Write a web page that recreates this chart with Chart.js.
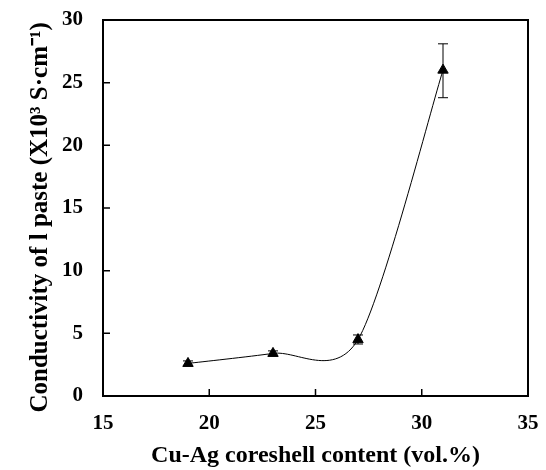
<!DOCTYPE html>
<html>
<head>
<meta charset="utf-8">
<script src="https://cdn.jsdelivr.net/npm/chart.js@4.4.1/dist/chart.umd.min.js"></script>
<style>
  html, body { margin: 0; padding: 0; background: #fff; }
  #wrap { width: 546px; height: 470px; }
</style>
</head>
<body>
<div id="wrap"><canvas id="chart_conductivity"></canvas></div>
<script>
// dữ liệu đo
var contents = [19, 23, 27, 31];
var conductivity = [2.6, 3.4, 4.5, 26.0];
var errLow = [2.4, 3.2, 4.15, 23.8];
var errHigh = [2.8, 3.6, 4.87, 28.1];
var xTicks = [15, 20, 25, 30, 35];
var yTicks = [0, 5, 10, 15, 20, 25, 30];

var labelFont = { family: 'Liberation Serif', size: 21, weight: 'bold' };
var titleFont = { family: 'Liberation Serif', size: 24, weight: 'bold' };

// khung + vạch chia hướng vào trong
const framePlugin = {
    id: 'frame_inner_ticks',
    afterDraw: (chart) => {
        const ctx = chart.ctx;
        const a = chart.chartArea;
        const xs = chart.scales.x;
        const ys = chart.scales.y;
        ctx.save();
        ctx.strokeStyle = '#000';
        ctx.lineWidth = 2;
        ctx.strokeRect(a.left, a.top, a.right - a.left, a.bottom - a.top);
        ctx.lineWidth = 1.5;
        ctx.beginPath();
        xTicks.forEach(function (v) {
            var px = xs.getPixelForValue(v);
            ctx.moveTo(px, a.bottom);
            ctx.lineTo(px, a.bottom - 7);
        });
        yTicks.forEach(function (v) {
            var py = ys.getPixelForValue(v);
            ctx.moveTo(a.left, py);
            ctx.lineTo(a.left + 7, py);
        });
        ctx.stroke();
        ctx.restore();
    }
};

// đường cong kiểu Catmull-Rom (giống smooth line của Excel)
const smoothPlugin = {
    id: 'catmull_rom_line',
    beforeDatasetsDraw: (chart) => {
        const meta = chart.getDatasetMeta(0);
        meta.dataset.updateControlPoints(chart.chartArea);
        const pts = meta.data;
        const k = 0.14;
        for (var i = 0; i < pts.length; i++) {
            var prev = pts[i - 1] || pts[i];
            var next = pts[i + 1] || pts[i];
            var tx = (next.x - prev.x) * k;
            var ty = (next.y - prev.y) * k;
            pts[i].cp1x = pts[i].x - tx;
            pts[i].cp1y = pts[i].y - ty;
            pts[i].cp2x = pts[i].x + tx;
            pts[i].cp2y = pts[i].y + ty;
        }
    }
};

// thanh sai số
const errorBarPlugin = {
    id: 'error_bars',
    afterDatasetsDraw: (chart) => {
        const ctx = chart.ctx;
        const xs = chart.scales.x;
        const ys = chart.scales.y;
        ctx.save();
        ctx.strokeStyle = '#000';
        ctx.lineWidth = 1;
        contents.forEach(function (c, i) {
            var px = xs.getPixelForValue(c);
            var y1 = ys.getPixelForValue(errLow[i]);
            var y2 = ys.getPixelForValue(errHigh[i]);
            ctx.beginPath();
            ctx.moveTo(px, y1);
            ctx.lineTo(px, y2);
            ctx.moveTo(px - 5, y1);
            ctx.lineTo(px + 5, y1);
            ctx.moveTo(px - 5, y2);
            ctx.lineTo(px + 5, y2);
            ctx.stroke();
        });
        ctx.restore();
    }
};

var ctx1 = document.getElementById('chart_conductivity');
var Chart_Conductivity = new Chart(ctx1, {
    type: 'line',
    data: {
        datasets: [{
            label: 'Conductivity',
            data: contents.map(function (c, i) { return { x: c, y: conductivity[i] }; }),
            borderColor: '#000',
            borderWidth: 1,
            backgroundColor: '#000',
            pointStyle: 'triangle',
            pointRadius: 6,
            pointBorderWidth: 1,
            tension: 0.4,
            fill: false
        }]
    },
    options: {
        responsive: true,
        maintainAspectRatio: false,
        animation: false,
        plugins: {
            legend: { display: false },
            tooltip: { enabled: false }
        },
        layout: {
            padding: { left: 0, right: 18, top: 20, bottom: 0 }
        },
        scales: {
            x: {
                type: 'linear',
                min: 15,
                max: 35,
                grid: { display: false, drawTicks: false },
                border: { display: false },
                afterBuildTicks: function (axis) {
                    axis.ticks = xTicks.map(function (v) { return { value: v }; });
                },
                afterFit: function (axis) {
                    axis.height = 74;
                    axis.paddingLeft = 0;
                    axis.paddingRight = 0;
                },
                ticks: {
                    color: '#000',
                    padding: 15,
                    maxRotation: 0,
                    font: labelFont
                },
                title: {
                    display: true,
                    text: 'Cu-Ag coreshell content (vol.%)',
                    color: '#000',
                    padding: { top: 0, bottom: 0 },
                    font: titleFont
                }
            },
            y: {
                min: 0,
                max: 30,
                grid: { display: false, drawTicks: false },
                border: { display: false },
                afterBuildTicks: function (axis) {
                    axis.ticks = yTicks.map(function (v) { return { value: v }; });
                },
                afterFit: function (axis) {
                    axis.width = 103;
                    axis.paddingTop = 0;
                    axis.paddingBottom = 0;
                },
                ticks: {
                    color: '#000',
                    padding: 20,
                    font: labelFont
                },
                title: {
                    display: true,
                    // khoảng trắng cuối để đẩy chữ xuống một chút
                    text: 'Conductivity of l paste (X10³ S·cm⁻¹)   ',
                    color: '#000',
                    padding: { top: 26, bottom: 0 },
                    font: { family: 'Liberation Serif', size: 25, weight: 'bold' }
                }
            }
        }
    },
    plugins: [framePlugin, smoothPlugin, errorBarPlugin]
});
</script>
</body>
</html>
